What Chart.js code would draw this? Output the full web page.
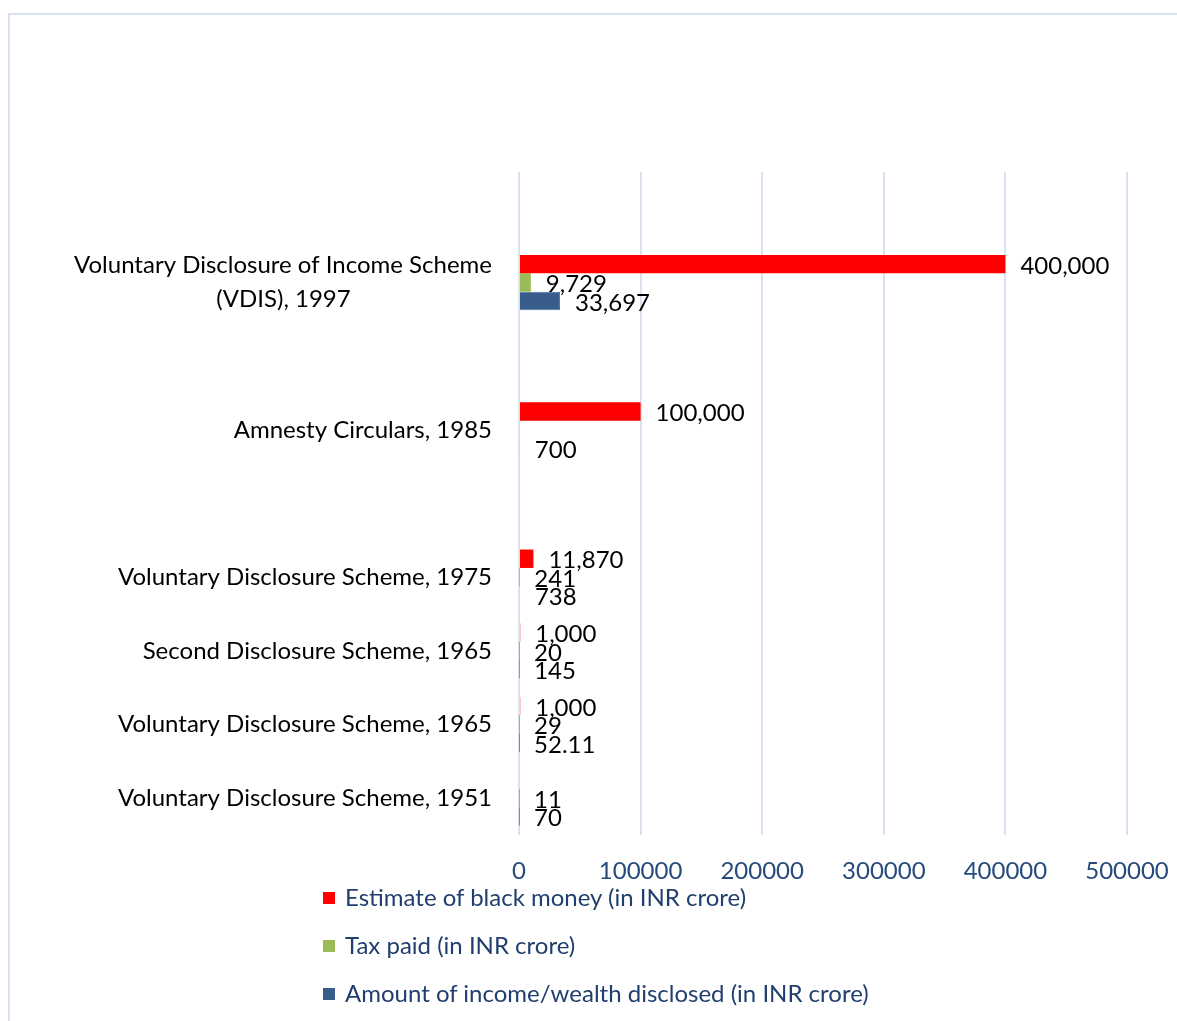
<!DOCTYPE html>
<html>
<head>
<meta charset="utf-8">
<script src="https://cdn.jsdelivr.net/npm/chart.js@4/dist/chart.umd.min.js"></script>
<style>
  body { margin: 0; background: #fff; overflow: hidden; }
  #wrap { position: relative; width: 1177px; height: 1021px; }
  #frame { position: absolute; left: 8px; top: 13px; width: 1200px; height: 1050px;
           border-left: 2px solid #d9e2f1; border-top: 2px solid #d9e2f1; }
  #bar_chart { position: absolute; left: 0; top: 0; }
  #legend { position: absolute; left: 323px; top: 873px; font-family: Lato, sans-serif;
            font-size: 24px; color: #203f6e; }
  #legend div { height: 48px; line-height: 48px; white-space: nowrap; }
  #legend span { display: inline-block; width: 12px; height: 12px; margin-right: 10px; vertical-align: middle; position: relative; top: -2px; }
</style>
</head>
<body>
<div id="wrap">
  <div id="frame"></div>
  <canvas id="bar_chart" width="1177" height="1021"></canvas>
  <div id="legend"></div>
</div>
<script>
const schemes = ['', ['Voluntary Disclosure of Income Scheme', '(VDIS), 1997'], '', 'Amnesty Circulars, 1985', '',
  'Voluntary Disclosure Scheme, 1975', 'Second Disclosure Scheme, 1965', 'Voluntary Disclosure Scheme, 1965',
  'Voluntary Disclosure Scheme, 1951'];
const blackMoney = [null, 400000, null, 100000, null, 11870, 1000, 1000, null];
const taxPaid = [null, 9729, null, null, null, 241, 20, 29, 11];
const disclosed = [null, 33697, null, 700, null, 738, 145, 52.11, 70];
const xTicks = [0, 100000, 200000, 300000, 400000, 500000];

const font = 'Lato, sans-serif';

// Excel centres the lines of a wrapped category label; pad the short lines with spaces to do the same
const measure = document.createElement('canvas').getContext('2d');
measure.font = '24px ' + font;
const centreLines = (label) => {
  if (!Array.isArray(label)) return label;
  const widths = label.map(l => measure.measureText(l).width);
  const widest = Math.max(...widths);
  const space = measure.measureText(' ').width;
  return label.map((l, i) => l + ' '.repeat(Math.round((widest - widths[i]) / 2 / space)));
};

const valueLabels = {
  id: 'valueLabels',
  afterDatasetsDraw(chart) {
    const ctx = chart.ctx;
    ctx.save();
    ctx.font = '24px ' + font;
    ctx.fillStyle = '#000';
    ctx.textAlign = 'left';
    ctx.textBaseline = 'middle';
    chart.data.datasets.forEach((ds, i) => {
      const meta = chart.getDatasetMeta(i);
      meta.data.forEach((bar, j) => {
        const v = ds.data[j];
        if (v == null) return;
        ctx.fillText(v.toLocaleString('en-US', { maximumFractionDigits: 2 }), bar.x + 15, bar.y + 2);
      });
    });
    ctx.restore();
  }
};

const greenFill = (context) => {
  const el = context.element;
  if (!el || el.y == null) return '#9bbb59';
  const g = context.chart.ctx.createLinearGradient(0, el.y - 9, 0, el.y + 9);
  g.addColorStop(0, '#afcf72');
  g.addColorStop(1, '#8aad4c');
  return g;
};

const chart = new Chart(document.getElementById('bar_chart'), {
  type: 'bar',
  data: {
    labels: schemes,
    datasets: [
      { label: 'Estimate of black money (in INR crore)', data: blackMoney, backgroundColor: '#ff0000' },
      { label: 'Tax paid (in INR crore)', data: taxPaid, backgroundColor: greenFill, legendColor: '#9bbb59' },
      { label: 'Amount of income/wealth disclosed (in INR crore)', data: disclosed, backgroundColor: '#385d8a',
        borderColor: '#4f74a3', borderWidth: 1 }
    ]
  },
  options: {
    indexAxis: 'y',
    responsive: false,
    animation: false,
    devicePixelRatio: 1,
    layout: { padding: { top: 172, right: 50, left: 0, bottom: 0 } },
    datasets: { bar: { categoryPercentage: 0.75, barPercentage: 1 } },
    plugins: { legend: { display: false }, tooltip: { enabled: false } },
    scales: {
      x: {
        min: 0, max: 500000,
        afterBuildTicks: (scale) => { scale.ticks = xTicks.map(v => ({ value: v })); },
        afterFit: (scale) => { scale.height = 186; scale.paddingLeft = 0; scale.paddingRight = 0; },
        grid: { color: '#d9e2f1', lineWidth: 2, drawTicks: false },
        border: { display: false },
        ticks: { color: '#264a7c', font: { family: font, size: 24 }, padding: 22,
                 callback: (v) => String(v) }
      },
      y: {
        afterFit: (scale) => { scale.width = 519; },
        grid: { display: false, drawTicks: false },
        border: { display: false },
        ticks: { color: '#000', font: { family: font, size: 24, lineHeight: 1.4 }, padding: 27,
                 callback: (v, i) => centreLines(schemes[i]) }
      }
    }
  },
  plugins: [valueLabels]
});

const legend = document.getElementById('legend');
chart.data.datasets.forEach(ds => {
  const row = document.createElement('div');
  const box = document.createElement('span');
  box.style.background = ds.legendColor || ds.backgroundColor;
  row.appendChild(box);
  row.appendChild(document.createTextNode(ds.label));
  legend.appendChild(row);
});
</script>
</body>
</html>
